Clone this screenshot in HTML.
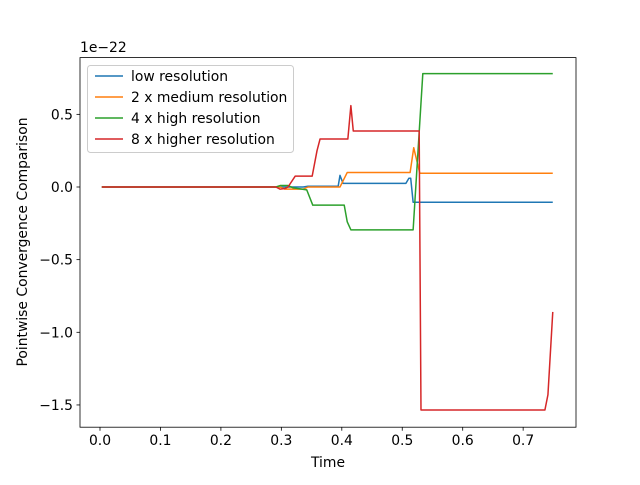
<!DOCTYPE html>
<html><head><meta charset="utf-8"><style>
body{margin:0;background:#fff}
svg text{font-family:"DejaVu Sans","Liberation Sans",sans-serif;font-size:13.9px;fill:#000}
</style></head><body>
<svg id="chart" width="640" height="480" xmlns="http://www.w3.org/2000/svg">
<rect width="640" height="480" fill="#fff"/>
<g id="plot"></g>
<rect x="80" y="57.6" width="496" height="369.6" fill="none" stroke="#000" stroke-width="0.8"/>
<g id="axes"></g>
<text x="80" y="52">1e−22</text>
<text x="328" y="467" text-anchor="middle">Time</text>
<text transform="translate(27,242) rotate(-90)" text-anchor="middle">Pointwise Convergence Comparison</text>
<g id="legend"></g>
</svg>
<script>
const xTicks=[0.0,0.1,0.2,0.3,0.4,0.5,0.6,0.7];
const yTicks=[0.5,0.0,-0.5,-1.0,-1.5];
const seriesNames=["low resolution","2 x medium resolution","4 x high resolution","8 x higher resolution"];
const colors=["#1f77b4","#ff7f0e","#2ca02c","#d62728"];
const lowT=[0.003,0.336,0.344,0.394,0.397,0.402,0.506,0.511,0.514,0.518,0.749];
const lowV=[0,0,0.005,0.005,0.08,0.025,0.025,0.06,0.06,-0.105,-0.105];
const medT=[0.003,0.298,0.306,0.336,0.344,0.397,0.409,0.513,0.519,0.529,0.749];
const medV=[0,0,-0.015,-0.015,0.0,0.0,0.1,0.1,0.27,0.095,0.095];
const highT=[0.003,0.291,0.298,0.311,0.319,0.342,0.352,0.404,0.409,0.415,0.518,0.534,0.749];
const highV=[0,0,0.01,0.01,-0.005,-0.02,-0.125,-0.125,-0.24,-0.295,-0.295,0.78,0.78];
const higherT=[0.003,0.291,0.298,0.306,0.311,0.323,0.351,0.359,0.364,0.410,0.415,0.419,0.528,0.531,0.736,0.741,0.749];
const higherV=[0,0,-0.015,-0.01,0,0.075,0.075,0.25,0.33,0.33,0.56,0.385,0.385,-1.535,-1.535,-1.43,-0.86];
const allT=[lowT,medT,highT,higherT], allV=[lowV,medV,highV,higherV];
const X=t=>100+t*604.5, Y=v=>187-v*145.3;
const NS="http://www.w3.org/2000/svg";
const plot=document.getElementById('plot'),axes=document.getElementById('axes'),leg=document.getElementById('legend');
function mk(tag,attrs,parent){const e=document.createElementNS(NS,tag);for(const k in attrs)e.setAttribute(k,attrs[k]);parent.appendChild(e);return e;}
allT.forEach((ts,i)=>{
  const p=mk('polyline',{points:ts.map((t,j)=>X(t)+','+Y(allV[i][j])).join(' '),fill:'none',stroke:colors[i],'stroke-width':1.5,'stroke-linejoin':'round'},plot);
  
  
});
xTicks.forEach(t=>{
  const l=mk('line',{x1:X(t),x2:X(t),y1:427.2,y2:430.7,stroke:'#000','stroke-width':0.8},axes);
  
  
  const tx=mk('text',{x:X(t),y:445,'text-anchor':'middle'},axes);tx.textContent=t.toFixed(1);
  
  
});
yTicks.forEach(v=>{
  const l=mk('line',{x1:76.5,x2:80,y1:Y(v),y2:Y(v),stroke:'#000','stroke-width':0.8},axes);
  
  
  const tx=mk('text',{x:73,y:Y(v)+5,'text-anchor':'end'},axes);tx.textContent=v.toFixed(1).replace('-','−');
  
  
});
const box=mk('rect',{x:87.5,y:65.5,width:206,height:87,rx:3,fill:'#fff','fill-opacity':0.8,stroke:'#ccc'},leg);


seriesNames.forEach((n,i)=>{
  const y=76+i*21;
  const l=mk('line',{x1:95,x2:123,y1:y,y2:y,stroke:colors[i],'stroke-width':1.5},leg);
  
  
  const tx=mk('text',{x:131,y:y+5},leg);tx.textContent=n;
  
  
});
</script>
</body></html>
